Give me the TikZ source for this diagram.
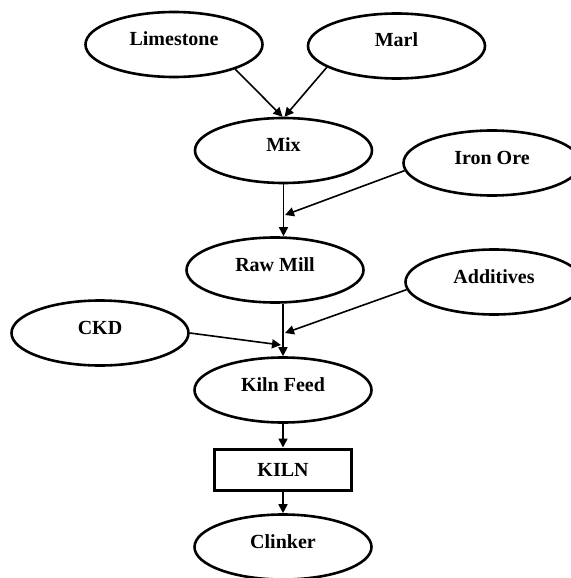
\documentclass[tikz,border=0pt]{standalone}
\usepackage{fontspec}
\setmainfont{Liberation Serif}
\usetikzlibrary{arrows.meta,shapes.geometric}
\begin{document}
\begin{tikzpicture}
      [x=1pt,y=-1pt,
      oval/.style={draw, ellipse, line width=2.6pt, minimum width=177pt,
        minimum height=65pt, inner sep=0pt, text height=14pt, text depth=12pt,
        font=\bfseries\fontsize{20}{24}\selectfont},
      box/.style={draw, rectangle, line width=3pt, minimum width=137pt,
        minimum height=41pt, inner sep=0pt,
        font=\bfseries\fontsize{20}{24}\selectfont},
      flow/.style={-{Triangle[length=9pt,width=9pt]}, line width=1.6pt}]
      \useasboundingbox (0,0) rectangle (570,578);
      \node[oval] (lime) at (174,44.5) {Limestone};
      \node[oval] (marl) at (396.5,46) {Marl};
      \node[oval] (mix) at (283.5,150.5) {Mix};
      \node[oval] (iron) at (492,163) {Iron Ore};
      \node[oval] (raw) at (275,270) {Raw Mill};
      \node[oval] (add) at (494,282) {Additives};
      \node[oval] (ckd) at (100,333) {CKD};
      \node[oval] (kfeed) at (283,390) {Kiln Feed};
      \node[box] (kiln) at (283,469.5) {KILN};
      \node[oval] (clinker) at (283,547) {Clinker};
      \coordinate (jiron) at (285,215);
      \coordinate (jadd) at (285,333);
      \coordinate (jckd) at (281,345);
      \draw[flow] (lime.-22) -- ([xshift=-1pt]mix.north);
      \draw[flow] (marl.197) -- ([xshift=1pt]mix.north);
      \draw[flow] (mix.south) -- (mix.south |- raw.north);
      \draw[flow] (iron.185) -- (jiron);
      \draw[flow] (kfeed.north |- raw.south) -- (kfeed.north);
      \draw[flow] (add.185) -- (jadd);
      \draw[flow] (ckd.east) -- (jckd);
      \draw[flow] (kfeed) -- (kiln);
      \draw[flow] (kiln) -- (clinker);
    \end{tikzpicture}
\end{document}
